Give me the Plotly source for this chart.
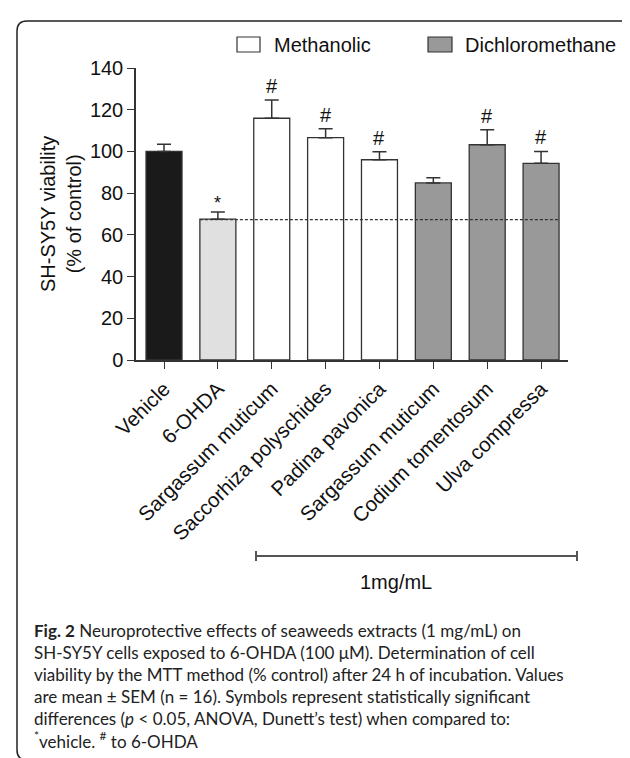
import plotly.graph_objects as go

# ---------------- data ----------------
categories = ["Vehicle", "6-OHDA", "Sargassum muticum", "Saccorhiza polyschides",
              "Padina pavonica", "Sargassum muticum", "Codium tomentosum", "Ulva compressa"]
groups = ["Vehicle", "6-OHDA", "Methanolic", "Methanolic", "Methanolic",
          "Dichloromethane", "Dichloromethane", "Dichloromethane"]
values = [100.0, 67.5, 115.9, 106.6, 96.0, 84.9, 103.2, 94.3]
sem = [3.5, 3.5, 8.7, 4.3, 3.9, 2.5, 7.2, 5.7]
marks = ["", "*", "#", "#", "#", "", "#", "#"]
ohda_level = 67.3
yticks = [0, 20, 40, 60, 80, 100, 120, 140]

colors = {"Vehicle": "#1a1a1a", "6-OHDA": "#e0e0e0",
          "Methanolic": "#ffffff", "Dichloromethane": "#999999"}

W, H = 630, 758
L, R, T, B = 128, 70, 60, 406
pw, ph = W - L - R, H - T - B


def px2x(px):
    return (px - L) / pw


def px2y(py):
    return (H - B - py) / ph


font_main = "Liberation Sans, Arial, sans-serif"
dark = "#333333"

fig = go.Figure()
xs = list(range(len(categories)))
for g in ["Vehicle", "6-OHDA", "Methanolic", "Dichloromethane"]:
    idx = [i for i in xs if groups[i] == g]
    fig.add_trace(go.Bar(
        x=idx, y=[values[i] for i in idx], width=0.668,
        marker=dict(color=colors[g], line=dict(color=dark, width=1.3)),
        error_y=dict(type="data", symmetric=False,
                     array=[sem[i] for i in idx], arrayminus=[0] * len(idx),
                     color=dark, thickness=1.5, width=7),
        name=g, showlegend=False))

# dashed reference line at 6-OHDA level
fig.add_shape(type="line", xref="x", yref="y", x0=1 - 0.334, x1=7 + 0.334,
              y0=ohda_level, y1=ohda_level,
              line=dict(color=dark, width=1.2, dash="3px,2px"))

# significance marks
for i in xs:
    if marks[i]:
        fig.add_annotation(x=i, y=values[i] + sem[i], xref="x", yref="y",
                           text=marks[i], showarrow=False, yanchor="bottom",
                           yshift=1 if marks[i] == "#" else -3,
                           font=dict(family=font_main, size=20 if marks[i] == "#" else 18,
                                     color="#111"))

# legend (manual swatches)
for (bx0, bx1, tx, lab, col) in [(229, 252, 264, "Methanolic", colors["Methanolic"]),
                                 (420, 444, 455, "Dichloromethane", colors["Dichloromethane"])]:
    fig.add_shape(type="rect", xref="paper", yref="paper",
                  x0=px2x(bx0), x1=px2x(bx1), y0=px2y(44), y1=px2y(29),
                  fillcolor=col, line=dict(color=dark, width=1.2))
    fig.add_annotation(xref="paper", yref="paper", x=px2x(tx), y=px2y(37),
                       text=lab, showarrow=False, xanchor="left", yanchor="middle",
                       font=dict(family=font_main, size=20, color="#111"))

# y axis title
fig.add_annotation(xref="paper", yref="paper", x=px2x(53), y=0.5,
                   text="SH-SY5Y viability<br>(% of control)", showarrow=False,
                   textangle=-90, xanchor="center", yanchor="middle",
                   font=dict(family=font_main, size=20, color="#111"))

# 1mg/mL bracket
bx0, bx1, by = 248, 569, 548
fig.add_shape(type="line", xref="paper", yref="paper", x0=px2x(bx0), x1=px2x(bx1),
              y0=px2y(by), y1=px2y(by), line=dict(color="#555", width=2))
for bx in (bx0, bx1):
    fig.add_shape(type="line", xref="paper", yref="paper", x0=px2x(bx), x1=px2x(bx),
                  y0=px2y(by - 5), y1=px2y(by + 5), line=dict(color="#555", width=2))
fig.add_annotation(xref="paper", yref="paper", x=px2x(388), y=px2y(574),
                   text="1mg/mL", showarrow=False, xanchor="center", yanchor="middle",
                   font=dict(family=font_main, size=20, color="#111"))

# caption
caption = ("<b>Fig. 2</b> Neuroprotective effects of seaweeds extracts (1 mg/mL) on<br>"
           "SH-SY5Y cells exposed to 6-OHDA (100 μM). Determination of cell<br>"
           "viability by the MTT method (% control) after 24 h of incubation. Values<br>"
           "are mean ± SEM (n = 16). Symbols represent statistically significant<br>"
           "differences (<i>p</i> < 0.05, ANOVA, Dunett’s test) when compared to:<br>"
           "<sup>*</sup>vehicle. <sup>#</sup> to 6-OHDA")
fig.add_annotation(xref="paper", yref="paper", x=px2x(24), y=px2y(610),
                   text=caption, showarrow=False, xanchor="left", yanchor="top",
                   align="left",
                   font=dict(family="Lato, Open Sans, sans-serif", size=17, color="#222"))

# frame with rounded corners
fx0, fx1, fy0, fy1, r = 9, 628, 13, 752, 10
rx, ry = r / pw, r / ph
X0, X1, Y0, Y1 = px2x(fx0), px2x(fx1), px2y(fy1), px2y(fy0)
path = (f"M {X0+rx},{Y1} L {X1-rx},{Y1} Q {X1},{Y1} {X1},{Y1-ry} "
        f"L {X1},{Y0+ry} Q {X1},{Y0} {X1-rx},{Y0} L {X0+rx},{Y0} "
        f"Q {X0},{Y0} {X0},{Y0+ry} L {X0},{Y1-ry} Q {X0},{Y1} {X0+rx},{Y1} Z")
fig.add_shape(type="path", xref="paper", yref="paper", path=path,
              line=dict(color="#222", width=1.5))

fig.update_layout(
    width=W, height=H, margin=dict(l=L, r=R, t=T, b=B, pad=0),
    plot_bgcolor="white", paper_bgcolor="white", barmode="overlay",
    font=dict(family=font_main, color="#111"),
    xaxis=dict(range=[-0.52, 7.5], tickvals=xs, ticktext=categories, tickangle=-45,
               showline=True, linecolor=dark, linewidth=1.5, ticks="outside",
               ticklen=7, tickcolor=dark, tickwidth=1.3, showgrid=False, zeroline=False,
               tickfont=dict(family=font_main, size=20.5, color="#111")),
    yaxis=dict(range=[0, 140], tickvals=yticks, showline=True, linecolor=dark,
               linewidth=1.5, ticks="outside", ticklen=7, tickcolor=dark, tickwidth=1.3,
               showgrid=False, zeroline=False,
               tickfont=dict(family=font_main, size=20, color="#111")),
)

fig.write_html("out.html")
